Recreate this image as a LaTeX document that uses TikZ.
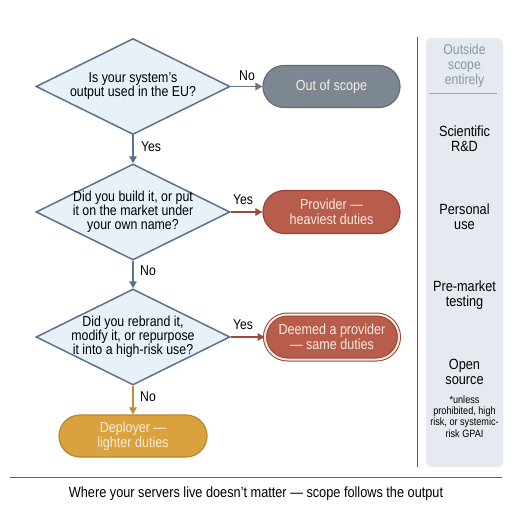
\documentclass[tikz,border=0pt]{standalone}
\usepackage{fontspec}
\setmainfont{Liberation Sans}[FakeStretch=0.86]
\usetikzlibrary{shapes.geometric,shapes.misc,arrows.meta}
\definecolor{diafill}{HTML}{E9F1F8}
\definecolor{diadraw}{HTML}{5B7190}
\definecolor{grayfill}{HTML}{7D8791}
\definecolor{graydraw}{HTML}{626C76}
\definecolor{grayarrow}{HTML}{6B7580}
\definecolor{redfill}{HTML}{B85C4B}
\definecolor{reddraw}{HTML}{984434}
\definecolor{redarrow}{HTML}{A04A3C}
\definecolor{goldfill}{HTML}{D9A23C}
\definecolor{golddraw}{HTML}{BA8628}
\definecolor{goldarrow}{HTML}{C08F33}
\definecolor{lighttext}{HTML}{F8EBE2}
\definecolor{panelfill}{HTML}{E5EAF0}
\definecolor{paneltitle}{HTML}{8A96A6}
\begin{document}
\begin{tikzpicture}[x=1pt,y=-1pt,
  dia/.style={diamond,draw=diadraw,fill=diafill,line width=1.5pt,minimum width=194pt,minimum height=96pt,inner sep=0pt},
  dtext/.style={align=center,font=\fontsize{14.4}{14}\selectfont,text=black},
  pill/.style={rounded rectangle,line width=1.2pt,minimum height=42pt,inner sep=0pt,align=center,text=lighttext,font=\fontsize{14.6}{15}\selectfont},
  arr/.style={line width=1.4pt,-{Triangle[length=7pt,width=7.5pt]}},
  lbl/.style={font=\fontsize{14.2}{15}\selectfont,text=black,inner sep=0pt},
  ptxt/.style={align=center,font=\fontsize{14.8}{15.3}\selectfont,text=black,inner sep=0pt},
]
\useasboundingbox (0,0) rectangle (512,512);
\fill[white] (0,0) rectangle (512,512);
% panel
\fill[panelfill,rounded corners=6pt] (426,38) rectangle (503,467);
\draw[black!65,line width=0.8pt] (417,37) -- (417,467);
\draw[black!35,line width=0.8pt] (429,93) -- (497,93);
\node[ptxt,text=paneltitle,font=\fontsize{14.2}{15}\selectfont] (ptitle) at (464.5,66) {Outside\\scope\\entirely};
\node[ptxt] (p1) at (464.5,139) {Scientific\\R\&D};
\node[ptxt] (p2) at (464.5,217) {Personal\\use};
\node[ptxt] (p3) at (464.5,295) {Pre-market\\testing};
\node[ptxt] (p4) at (464.5,372) {Open\\source};
\node[ptxt,font=\fontsize{10.6}{11.3}\selectfont] (p5) at (464.5,416.5) {*unless\\prohibited, high\\risk, or systemic-\\risk GPAI};
% diamonds
\node[dia] (d1) at (133,86.5) {};
\node[dtext] (t1) at (133,86) {Is your system's\\output used in the EU?};
\node[dia] (d2) at (133,212) {};
\node[dtext] (t2) at (133,212) {Did you build it, or put\\it on the market under\\your own name?};
\node[dia] (d3) at (133,337) {};
\node[dtext] (t3) at (133,337) {Did you rebrand it,\\modify it, or repurpose\\it into a high-risk use?};
% outcome boxes
\node[pill,fill=grayfill,draw=graydraw,minimum width=137pt] (o1) at (331.5,86.5) {Out of scope};
\node[pill,fill=redfill,draw=reddraw,minimum width=137pt,minimum height=43pt] (o2) at (331.5,212) {Provider —\\heaviest duties};
\node[pill,fill=redfill,draw=reddraw,double=lighttext,double distance=2pt,line width=1pt,minimum width=134pt,minimum height=45pt] (o3) at (332,337) {Deemed a provider\\— same duties};
\node[pill,fill=goldfill,draw=golddraw,minimum width=148pt] (o4) at (133,436) {Deployer —\\lighter duties};
% connectors
\draw[arr,grayarrow] (d1.east) -- (o1.west);
\draw[arr,diadraw] (d1.south) -- (d2.north);
\draw[arr,redarrow] (d2.east) -- (o2.west);
\draw[arr,diadraw] (d2.south) -- (d3.north);
\draw[arr,redarrow] (d3.east) -- (o3.west);
\draw[arr,goldarrow] (d3.south) -- (o4.north);
% labels
\node[lbl] (l1) at (247,76) {No};
\node[lbl] (l2) at (151,147) {Yes};
\node[lbl] (l3) at (243,200) {Yes};
\node[lbl] (l4) at (148,271) {No};
\node[lbl] (l5) at (243,325) {Yes};
\node[lbl] (l6) at (148,397) {No};
% bottom
\draw[black!60,line width=0.8pt] (10,477) -- (502,477);
\node[lbl,font=\fontsize{14.8}{15.5}\selectfont] (cap) at (256,494) {Where your servers live doesn't matter — scope follows the output};
\end{tikzpicture}
\end{document}
